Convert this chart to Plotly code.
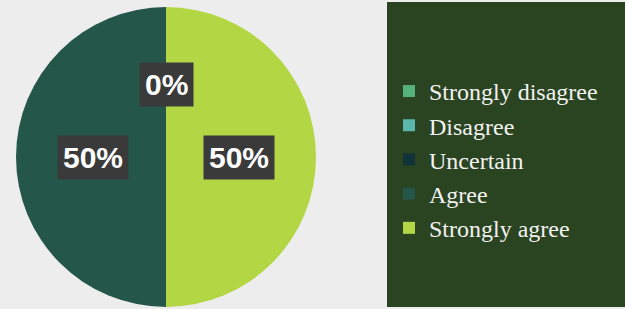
import math
import plotly.graph_objects as go

labels = ["Strongly disagree", "Disagree", "Uncertain", "Agree", "Strongly agree"]
values = [0, 0, 0, 50, 50]
colors = ["#55B27A", "#5BB8AC", "#13333A", "#24564A", "#B3D645"]
shown_labels = [False, False, True, True, True]

W, H = 625, 309
dom_x = [16 / W, 316 / W]
dom_y = [2 / H, 302 / H]

fig = go.Figure()
fig.add_trace(go.Pie(
    labels=labels, values=values, marker=dict(colors=colors, line=dict(width=0)),
    sort=False, direction="counterclockwise", rotation=0,
    textinfo="none", domain=dict(x=dom_x, y=dom_y), showlegend=True,
))

# label boxes placed at the middle of each slice, about half the radius out
total = sum(values)
cx = (dom_x[0] + dom_x[1]) / 2 * W
cy = (1 - (dom_y[0] + dom_y[1]) / 2) * H
r = min((dom_x[1] - dom_x[0]) * W, (dom_y[1] - dom_y[0]) * H) / 2
start = 90.0
for lab, v, show in zip(labels, values, shown_labels):
    sweep = 360.0 * v / total
    mid = start + sweep / 2
    start += sweep
    if not show:
        continue
    px = cx + 0.485 * r * math.cos(math.radians(mid))
    py = cy - 0.485 * r * math.sin(math.radians(mid))
    fig.add_annotation(
        x=px / W, y=1 - py / H, xref="paper", yref="paper",
        text=f"<b>{round(100 * v / total)}%</b>", showarrow=False,
        font=dict(family="Liberation Sans, Arial", size=30, color="white"),
        bgcolor="#3A3A3A", borderpad=5, xanchor="center", yanchor="middle",
    )

fig.add_shape(type="rect", xref="paper", yref="paper",
              x0=387 / W, x1=1.0, y0=2 / H, y1=1 - 2 / H,
              fillcolor="#2A4320", line=dict(width=0), layer="below")

fig.update_layout(
    width=W, height=H, margin=dict(l=0, r=0, t=0, b=0),
    paper_bgcolor="#EDEDED", plot_bgcolor="#EDEDED",
    legend=dict(
        x=389 / W, y=0.484, xanchor="left", yanchor="middle",
        bgcolor="rgba(0,0,0,0)",
        font=dict(family="Liberation Serif, Times New Roman", size=24, color="#F2F2F2"),
    ),
)

fig.write_html("out.html", config={"displayModeBar": False},
               post_script="document.body.style.margin='0';")
